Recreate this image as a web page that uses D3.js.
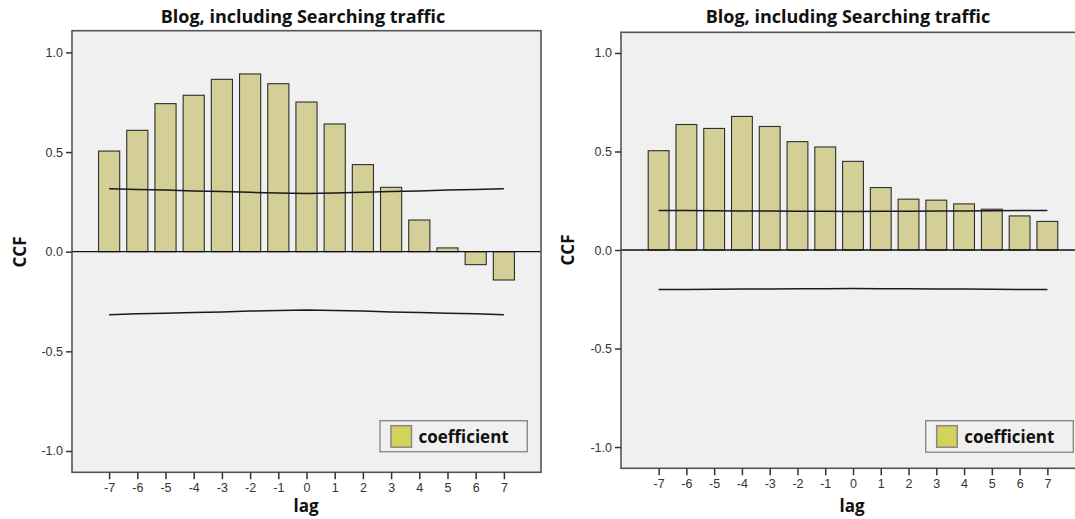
<!DOCTYPE html>
<html>
<head>
<meta charset="utf-8">
<script src="https://cdn.jsdelivr.net/npm/d3@7"></script>
<style>
  html, body { margin: 0; padding: 0; background: #ffffff; }
  svg { display: block; }
</style>
</head>
<body>
<svg id="chart" width="1075" height="519"></svg>
<script>
// ---------- DATA ----------
const lags = [-7, -6, -5, -4, -3, -2, -1, 0, 1, 2, 3, 4, 5, 6, 7];
const yTicks = [-1.0, -0.5, 0.0, 0.5, 1.0];
const titleText = "Blog, including Searching traffic";
const yLabel = "CCF";
const xLabel = "lag";
const legendLabel = "coefficient";

// left panel
const leftCoef  = [0.505, 0.609, 0.743, 0.785, 0.865, 0.892, 0.843, 0.751, 0.641, 0.437, 0.323, 0.159, 0.019, -0.065, -0.142];
const leftUpper = [0.316, 0.312, 0.309, 0.305, 0.302, 0.298, 0.295, 0.292, 0.295, 0.298, 0.302, 0.305, 0.309, 0.312, 0.316];
const leftLower = [-0.316, -0.312, -0.309, -0.305, -0.302, -0.298, -0.295, -0.292, -0.295, -0.298, -0.302, -0.305, -0.309, -0.312, -0.316];

// right panel
const rightCoef  = [0.504, 0.637, 0.617, 0.678, 0.627, 0.550, 0.523, 0.450, 0.317, 0.258, 0.253, 0.234, 0.207, 0.173, 0.145];
const rightUpper = [0.201, 0.200, 0.199, 0.198, 0.198, 0.197, 0.197, 0.196, 0.197, 0.197, 0.198, 0.198, 0.199, 0.200, 0.201];
const rightLower = [-0.201, -0.200, -0.199, -0.198, -0.198, -0.197, -0.197, -0.196, -0.197, -0.197, -0.198, -0.198, -0.199, -0.200, -0.201];

// ---------- LAYOUT ----------
const panels = [
  { coef: leftCoef, upper: leftUpper, lower: leftLower,
    x0: 72, x1: 541, y0: 30.7, y1: 472.3, yDom: [-1.107, 1.109], pad: 1.316,
    titleX: 303, titleY: 22.5, ccfX: 19, ccfY: 252, lagX: 306, lagY: 512,
    legX: 380, legY: 420.7, legW: 147.3, legH: 31 },
  { coef: rightCoef, upper: rightUpper, lower: rightLower,
    x0: 621, x1: 1085, y0: 32.3, y1: 468.3, yDom: [-1.108, 1.105], pad: 1.355,
    titleX: 848, titleY: 23, ccfX: 567, ccfY: 250, lagX: 852, lagY: 512,
    legX: 925.7, legY: 420.7, legW: 147.6, legH: 31.5 }
];

const svg = d3.select("#chart");
const boldFont = "'Open Sans', 'Noto Sans', sans-serif";
const tickFont = "'Liberation Sans', Arial, sans-serif";

panels.forEach(p => {
  const g = svg.append("g");
  const x = d3.scalePoint().domain(lags).range([p.x0, p.x1]).padding(p.pad);
  const y = d3.scaleLinear().domain(p.yDom).range([p.y1, p.y0]);
  const bw = x.step() * 0.75;

  // plot background
  g.append("rect")
    .attr("x", p.x0).attr("y", p.y0)
    .attr("width", p.x1 - p.x0).attr("height", p.y1 - p.y0)
    .attr("fill", "#f0f0f0");

  // bars
  g.selectAll("rect.bar")
    .data(lags.map((l, i) => ({ lag: l, v: p.coef[i] })))
    .join("rect")
    .attr("class", "bar")
    .attr("x", d => x(d.lag) - bw / 2)
    .attr("width", bw)
    .attr("y", d => y(Math.max(0, d.v)))
    .attr("height", d => Math.abs(y(d.v) - y(0)))
    .attr("fill", "#d3cf96")
    .attr("stroke", "#2e2e2e")
    .attr("stroke-width", 1.1);

  // zero reference line
  g.append("line")
    .attr("x1", p.x0).attr("x2", p.x1)
    .attr("y1", y(0)).attr("y2", y(0))
    .attr("stroke", "#111").attr("stroke-width", 1.3);

  // confidence limits
  const line = d3.line().x(d => x(d[0])).y(d => y(d[1]));
  [p.upper, p.lower].forEach(arr => {
    g.append("path")
      .attr("d", line(lags.map((l, i) => [l, arr[i]])))
      .attr("fill", "none")
      .attr("stroke", "#1a1a1a")
      .attr("stroke-width", 1.5);
  });

  // frame
  g.append("rect")
    .attr("x", p.x0).attr("y", p.y0)
    .attr("width", p.x1 - p.x0).attr("height", p.y1 - p.y0)
    .attr("fill", "none")
    .attr("stroke", "#555")
    .attr("stroke-width", 1.6);

  // y axis
  const ya = g.append("g")
    .attr("transform", `translate(${p.x0},0)`)
    .call(d3.axisLeft(y).tickValues(yTicks).tickSize(6).tickPadding(3)
      .tickFormat(d => d.toFixed(1)));
  ya.select(".domain").remove();
  ya.selectAll(".tick line").attr("stroke", "#333").attr("stroke-width", 1.5);
  ya.selectAll(".tick text")
    .attr("font-family", tickFont).attr("font-size", 12.5).attr("fill", "#333");

  // x axis
  const xa = g.append("g")
    .attr("transform", `translate(0,${p.y1})`)
    .call(d3.axisBottom(x).tickSize(7).tickPadding(4).tickFormat(d => String(d)));
  xa.select(".domain").remove();
  xa.selectAll(".tick line").attr("stroke", "#333").attr("stroke-width", 1.5);
  xa.selectAll(".tick text")
    .attr("font-family", tickFont).attr("font-size", 12.5).attr("fill", "#333");

  // title
  g.append("text")
    .attr("x", p.titleX).attr("y", p.titleY)
    .attr("text-anchor", "middle")
    .attr("font-family", boldFont).attr("font-weight", "bold").attr("font-size", 18)
    .attr("fill", "#111")
    .text(titleText);

  // axis titles
  g.append("text")
    .attr("transform", `translate(${p.ccfX},${p.ccfY}) rotate(-90)`)
    .attr("text-anchor", "middle").attr("dominant-baseline", "central")
    .attr("font-family", boldFont).attr("font-weight", "bold").attr("font-size", 17)
    .attr("fill", "#111")
    .text(yLabel);
  g.append("text")
    .attr("x", p.lagX).attr("y", p.lagY)
    .attr("text-anchor", "middle")
    .attr("font-family", boldFont).attr("font-weight", "bold").attr("font-size", 17)
    .attr("fill", "#111")
    .text(xLabel);

  // legend
  const lg = g.append("g");
  lg.append("rect")
    .attr("x", p.legX).attr("y", p.legY)
    .attr("width", p.legW).attr("height", p.legH)
    .attr("fill", "#f0f0f0").attr("stroke", "#8a8a8a").attr("stroke-width", 1.4);
  lg.append("rect")
    .attr("x", p.legX + 11).attr("y", p.legY + 5)
    .attr("width", 20.5).attr("height", 21.5)
    .attr("fill", "#d3d35a").attr("stroke", "#888").attr("stroke-width", 1.5);
  lg.append("text")
    .attr("x", p.legX + 38.5).attr("y", p.legY + 22)
    .attr("font-family", boldFont).attr("font-weight", "bold").attr("font-size", 17)
    .attr("fill", "#111")
    .text(legendLabel);
});
</script>
</body>
</html>
